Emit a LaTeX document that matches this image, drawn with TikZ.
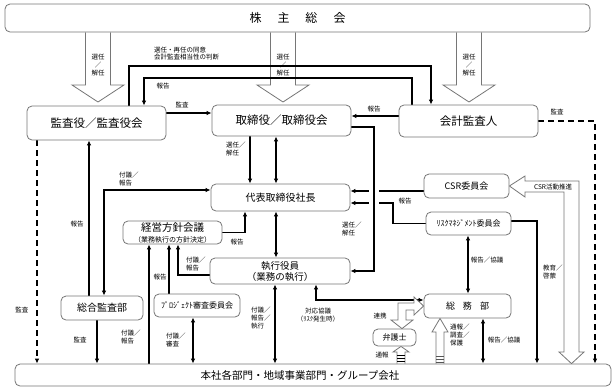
\documentclass[tikz,border=0pt]{standalone}
\usepackage{fontspec}
\setmainfont{Noto Sans CJK JP}
\usepackage{tikz}
\pgfdeclarelayer{background}
\pgfsetlayers{background,main}
\usetikzlibrary{arrows.meta}
\definecolor{boxline}{HTML}{767676}
\definecolor{stripe}{HTML}{555555}

\begin{document}
\begin{tikzpicture}[x=1pt, y=-1pt,
    every node/.style={inner sep=0pt},
    box/.style={rectangle, rounded corners=5pt, draw=boxline, line width=0.8pt, fill=white, font=\fontsize{11.5}{13}\selectfont},
    smallbox/.style={box, font=\fontsize{8}{10}\selectfont},
    note/.style={font=\fontsize{6.5}{7.8}\selectfont, align=left},
    link/.style={line width=1.5pt, -{Latex[length=5pt,width=4.5pt]}},
    twoway/.style={line width=1.5pt, {Latex[length=5pt,width=4.5pt]}-{Latex[length=5pt,width=4.5pt]}},
    audit/.style={link, dash pattern=on 6pt off 4pt},
    hollow/.style={draw=boxline, line width=0.8pt, fill=white},
]
\useasboundingbox (0,0) rectangle (615,391);
% organisation boxes
\node[box, minimum width=585pt, minimum height=28pt, font=\fontsize{12}{14}\selectfont] (soukai) at (297.5,18) {株\hspace{16pt}主\hspace{16pt}総\hspace{16pt}会};
\node[box, minimum width=139pt, minimum height=34pt] (kansayaku) at (96.5,123) {監査役／監査役会};
\node[box, minimum width=139pt, minimum height=31pt] (torishimari) at (281.5,120.5) {取締役／取締役会};
\node[box, minimum width=139pt, minimum height=32pt] (kaikei) at (468.5,121) {会計監査人};
\node[box, minimum width=139pt, minimum height=27pt, font=\fontsize{10}{12}\selectfont] (shacho) at (280.5,197.5) {代表取締役社長};
\node[box, minimum width=99pt, minimum height=23pt, align=center, font=\fontsize{10.5}{11}\selectfont] (keiei) at (172.5,232.5) {経営方針会議\\{\fontsize{7}{8}\selectfont （業務執行の方針決定）}};
\node[box, minimum width=140pt, minimum height=26pt, align=center, font=\fontsize{9.5}{11}\selectfont] (shikko) at (280,271) {執行役員\\（業務の執行）};
\node[smallbox, minimum width=85pt, minimum height=24pt, font=\fontsize{9}{10}\selectfont] (csr) at (466.5,186) {CSR委員会};
\node[smallbox, minimum width=85pt, minimum height=23pt] (risk) at (468.5,223.5) {ﾘｽｸﾏﾈｼﾞﾒﾝﾄ委員会};
\node[smallbox, minimum width=87pt, minimum height=24pt, font=\fontsize{9}{10}\selectfont] (somu) at (467.5,306) {総\hspace{8pt}務\hspace{8pt}部};
\node[box, minimum width=82pt, minimum height=24pt, font=\fontsize{10}{12}\selectfont] (sogo) at (102,308) {総合監査部};
\node[smallbox, minimum width=86pt, minimum height=23pt] (project) at (197,305.5) {ﾌﾟﾛｼﾞｪｸﾄ審査委員会};
\node[smallbox, minimum width=43pt, minimum height=17pt] (bengoshi) at (394.5,337.5) {弁護士};
\node[box, minimum width=596pt, minimum height=22pt, font=\fontsize{10.5}{12}\selectfont] (honsha) at (313,375) {\hspace*{-26pt}本社各部門・地域事業部門・グループ会社};

\begin{pgfonlayer}{background}
% appointment arrows from the meeting
\foreach \x in {98,283,469} {
    \draw[hollow] (\x-12.5,0 |- soukai.south) -- (\x-12.5,85) -- (\x-26,85) -- (\x,102) -- (\x+26,85) -- (\x+12.5,85) -- (\x+12.5,0 |- soukai.south);
    \node[note, align=center, font=\fontsize{6.5}{8}\selectfont] (appoint\x) at (\x,65) {選任\\／\\解任};
}
\draw[link] (129,0 |- kansayaku.north) |- (431,66) -- (431,0 |- kaikei.north);
\draw[link] (412,0 |- kaikei.north) |- (144,78) -- (144,0 |- kansayaku.north);
\draw[link] (kansayaku.east |- 0,113) -- (torishimari.west |- 0,113);
\draw[link] (kaikei.west |- 0,116) -- (torishimari.east |- 0,116);
\draw[audit] (kaikei.east) -| (595,0 |- honsha.north);
\draw[audit] (37,0 |- kansayaku.south) -- (37,0 |- honsha.north);
\draw[link] (250,0 |- torishimari.south) -- (250,0 |- shacho.north);
\draw[twoway] (276,0 |- torishimari.south) -- (276,0 |- shacho.north);
\draw[twoway] (276,0 |- shacho.south) -- (276,0 |- shikko.north);
\draw[link] (csr.west |- 0,191) -- (shacho.east |- 0,191);
\draw[link] (risk.west) -| (393,203) -- (shacho.east |- 0,203);
\draw[link, preaction={draw=white, line width=10pt, -}] (torishimari.east |- 0,127) -| (374,271) -- (shikko.east |- 0,271);
\draw[twoway] (468,0 |- risk.south) -- (468,0 |- somu.north);
\draw[link] (risk.east |- 0,221) -| (537,0 |- honsha.north);
\draw[hollow] (csr.east) -- (525,176) -- (525,181) -- (579,181) -- (579,352) -- (584,352) -- (571.5,0 |- honsha.north) -- (559,352) -- (564,352) -- (564,192) -- (525,192) -- (525,197) -- cycle;
\draw[link] (89,0 |- sogo.north) -- (89,0 |- kansayaku.south);
\draw[twoway] (shacho.west |- 0,190) -| (104,0 |- sogo.north);
\draw[link] (97,0 |- sogo.south) -- (97,0 |- honsha.north);
\draw[link] (149,0 |- honsha.north) -- (149,0 |- keiei.south);
\draw[link] (keiei.east) -| (245,0 |- shacho.south);
\draw[link] (169,0 |- project.north) -- (169,0 |- keiei.south);
\draw[link] (shikko.west |- 0,275) -| (178,0 |- keiei.south);
\draw[twoway] (193,0 |- project.south) -- (193,0 |- honsha.north);
\draw[twoway] (275,0 |- shikko.south) -- (275,0 |- honsha.north);
\draw[twoway] (316,0 |- shikko.south) |- (somu.west |- 0,300);
\draw[twoway] (483,0 |- somu.south) -- (483,0 |- honsha.north);
% lawyer and whistle-blowing
\draw[hollow] (398,303) -- (414,303) -- (414,297) -- (somu.west |- 0,306) -- (414,315) -- (414,310) -- (406,310) -- (406,320) -- (413,320) -- (bengoshi.north -| 402,0) -- (391,320) -- (398,320) -- cycle;
\draw[hollow] (397,0 |- honsha.north) -- (397,352) -- (393,352) -- (401,0 |- bengoshi.south) -- (409,352) -- (405,352) -- (405,0 |- honsha.north);
\foreach \y in {355.5,358.5,361.5} \draw[line width=1.8pt] (397.4,\y) -- (404.6,\y);
\draw[hollow] (436,0 |- honsha.north) -- (436,332) -- (432,332) -- (440,0 |- somu.south) -- (448,332) -- (444,332) -- (444,0 |- honsha.north);
\foreach \y in {356,359,362} \draw[stripe, line width=1pt] (436.4,\y) -- (443.6,\y);

% labels
\node[note, anchor=west] (agree) at (154,53.5) {選任・再任の同意\\会計監査相当性の判断};
\node[note] (rep1) at (163,86) {報告};
\node[note] (aud1) at (182,105) {監査};
\node[note] (rep2) at (374,109) {報告};
\node[note] (aud2) at (557,112) {監査};
\node[note] (aud3) at (22,310) {監査};
\node[note, anchor=west] (appoint1) at (226,149) {選任／\\解任};
\node[note, anchor=west] (prop1) at (119,179) {付議／\\報告};
\node[note] (rep3) at (77,224) {報告};
\node[note] (rep4) at (237,242) {報告};
\node[note, anchor=west] (prop2) at (186,264) {付議／\\報告};
\node[note] (rep5) at (160,277) {報告};
\node[note, anchor=west] (prop3) at (121,337) {付議／\\報告};
\node[note] (aud4) at (80,340) {監査};
\node[note, anchor=west] (prop4) at (166,340) {付議／\\審査};
\node[note, anchor=west] (prop5) at (251,318) {付議／\\報告／\\執行};
\node[note, align=center] (consult) at (318,315) {対応協議\\（ﾘｽｸ発生時）};
\node[note, anchor=west] (appoint2) at (342,229) {選任／\\解任};
\node[note] (rep6) at (405,201) {報告};
\node[note] (promo) at (553,187) {CSR活動推進};
\node[note] (disc1) at (487,260) {報告／協議};
\node[note, anchor=west] (edu) at (543,272) {教育／\\啓蒙};
\node[note] (disc2) at (504,340) {報告／協議};
\node[note] (coop) at (380,316) {連携};
\node[note] (whistle1) at (382,355) {通報};
\node[note, anchor=west] (whistle2) at (450,335) {通報／\\調査／\\保護};
\end{pgfonlayer}
\end{tikzpicture}
\end{document}
